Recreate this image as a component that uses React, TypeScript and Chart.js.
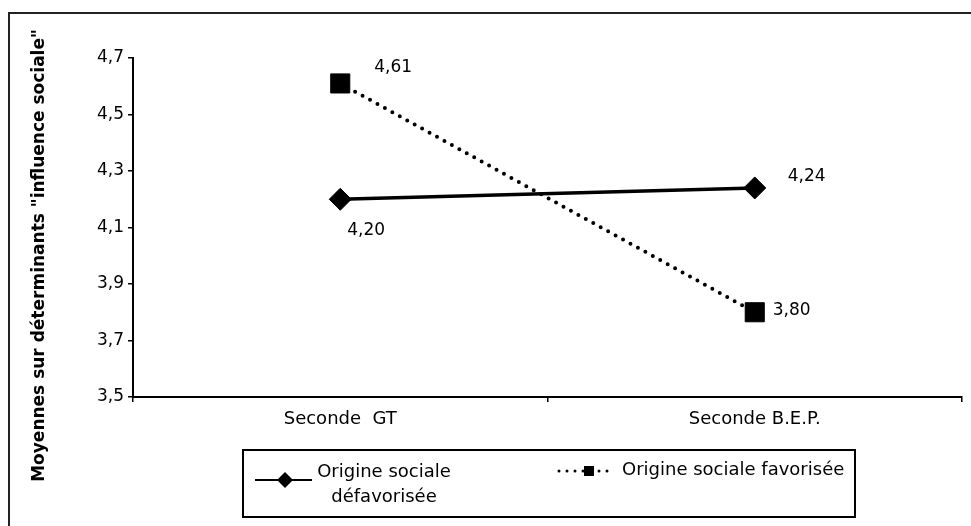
import React, { useEffect, useRef } from 'react';
import { Chart, registerables } from 'chart.js';

Chart.register(...registerables);

// ---- data ----
const categories = ['Seconde  GT', 'Seconde B.E.P.'];
const seriesNames = ['Origine sociale défavorisée', 'Origine sociale favorisée'];
const defavoriseeValues = [4.2, 4.24];
const favoriseeValues = [4.61, 3.8];
const yMin = 3.5;
const yMax = 4.7;
const yStep = 0.2;
const yAxisTitle = 'Moyennes sur déterminants "influence sociale"';
const legendLines = [['Origine sociale', 'défavorisée'], ['Origine sociale favorisée']];

// ---- style ----
const FONT = "'DejaVu Sans', 'Liberation Sans', sans-serif";
const INK = '#000000';
const fmt = (v: number, d: number) => v.toFixed(d).replace('.', ',');
const labelOffsets = [
  [[7, 31], [33, -11]],
  [[34, -16], [18, -2]],
];

const framePlugin = {
  id: 'frame',
  beforeDraw(chart: any) {
    const ctx = chart.ctx;
    ctx.save();
    ctx.fillStyle = '#ffffff';
    ctx.fillRect(0, 0, chart.width, chart.height);
    ctx.strokeStyle = '#222222';
    ctx.lineWidth = 2;
    ctx.beginPath();
    ctx.moveTo(9, chart.height);
    ctx.lineTo(9, 13);
    ctx.lineTo(chart.width, 13);
    ctx.stroke();
    ctx.restore();
  },
};

const yTitlePlugin = {
  id: 'yTitle',
  afterDraw(chart: any) {
    const ctx = chart.ctx;
    const a = chart.chartArea;
    ctx.save();
    ctx.translate(40, (a.top + a.bottom) / 2 + 28);
    ctx.rotate(-Math.PI / 2);
    ctx.fillStyle = INK;
    ctx.font = `bold 17px ${FONT}`;
    ctx.textAlign = 'center';
    ctx.textBaseline = 'middle';
    ctx.fillText(yAxisTitle, 0, 0);
    ctx.restore();
  },
};

const dataLabelPlugin = {
  id: 'dataLabels',
  afterDatasetsDraw(chart: any) {
    const ctx = chart.ctx;
    ctx.save();
    ctx.fillStyle = INK;
    ctx.font = `17px ${FONT}`;
    ctx.textAlign = 'left';
    ctx.textBaseline = 'middle';
    chart.data.datasets.forEach((ds: any, i: number) => {
      const meta = chart.getDatasetMeta(i);
      meta.data.forEach((el: any, j: number) => {
        const [dx, dy] = labelOffsets[i][j];
        ctx.fillText(fmt(ds.data[j], 2), el.x + dx, el.y + dy);
      });
    });
    ctx.restore();
  },
};

const legendPlugin = {
  id: 'boxLegend',
  afterDraw(chart: any) {
    const ctx = chart.ctx;
    ctx.save();
    ctx.strokeStyle = INK;
    ctx.fillStyle = INK;
    ctx.lineWidth = 2;
    ctx.strokeRect(243, 450, 612, 67);

    // item 1: solid line + diamond
    ctx.beginPath();
    ctx.moveTo(255, 480);
    ctx.lineTo(312, 480);
    ctx.stroke();
    ctx.beginPath();
    ctx.moveTo(285 - 8, 480);
    ctx.lineTo(285, 480 - 8);
    ctx.lineTo(285 + 8, 480);
    ctx.lineTo(285, 480 + 8);
    ctx.closePath();
    ctx.fill();

    ctx.font = `18px ${FONT}`;
    ctx.textBaseline = 'middle';
    ctx.textAlign = 'center';
    ctx.fillText(legendLines[0][0], 384, 472);
    ctx.fillText(legendLines[0][1], 384, 497);

    // item 2: dotted line + square
    ctx.save();
    ctx.lineWidth = 3;
    ctx.lineCap = 'round';
    ctx.setLineDash([0, 8]);
    ctx.beginPath();
    ctx.moveTo(559, 471);
    ctx.lineTo(612, 471);
    ctx.stroke();
    ctx.restore();
    ctx.fillRect(589 - 5, 471 - 5, 10, 10);

    ctx.textAlign = 'left';
    ctx.fillText(legendLines[1][0], 622, 470);
    ctx.restore();
  },
};

export default function App() {
  const ref = useRef<HTMLCanvasElement | null>(null);

  useEffect(() => {
    if (!ref.current) return;
    const chart = new Chart(ref.current, {
      type: 'line',
      data: {
        labels: categories,
        datasets: [
          {
            label: seriesNames[0],
            data: defavoriseeValues,
            borderColor: INK,
            backgroundColor: INK,
            borderWidth: 3.5,
            pointStyle: 'rectRot',
            pointRadius: 11,
            pointBorderWidth: 1,
            pointBackgroundColor: INK,
            pointBorderColor: INK,
            tension: 0,
          },
          {
            label: seriesNames[1],
            data: favoriseeValues,
            borderColor: INK,
            backgroundColor: INK,
            borderWidth: 4,
            borderDash: [0, 8.5],
            borderCapStyle: 'round',
            pointStyle: 'rect',
            pointRadius: 13.5,
            pointBorderWidth: 1,
            pointBackgroundColor: INK,
            pointBorderColor: INK,
            tension: 0,
          },
        ],
      },
      options: {
        responsive: false,
        animation: false,
        events: [],
        layout: { autoPadding: false, padding: { left: 0, top: 58, right: 9, bottom: 0 } },
        plugins: {
          legend: { display: false },
          tooltip: { enabled: false },
          title: { display: false },
        },
        scales: {
          x: {
            type: 'category',
            offset: true,
            afterFit(scale: any) {
              scale.height = 129;
              scale.paddingLeft = 0;
              scale.paddingRight = 0;
            },
            grid: {
              display: true,
              offset: true,
              drawOnChartArea: false,
              drawTicks: true,
              tickLength: 5,
              color: INK,
              lineWidth: 1.5,
            },
            border: { display: true, color: INK, width: 2 },
            ticks: {
              color: INK,
              padding: 7,
              font: { family: FONT, size: 18 },
              maxRotation: 0,
            },
          },
          y: {
            type: 'linear',
            min: yMin,
            max: yMax,
            afterFit(scale: any) {
              scale.width = 133;
            },
            grid: {
              display: true,
              drawOnChartArea: false,
              drawTicks: true,
              tickLength: 5,
              color: INK,
              lineWidth: 1.5,
            },
            border: { display: true, color: INK, width: 2 },
            ticks: {
              stepSize: yStep,
              color: INK,
              padding: 4,
              font: { family: FONT, size: 17 },
              callback: (v: any) => fmt(Number(v), 1),
            },
          },
        },
      },
      plugins: [framePlugin, dataLabelPlugin, yTitlePlugin, legendPlugin],
    } as any);
    return () => chart.destroy();
  }, []);

  return (
    <div style={{ position: 'absolute', left: 0, top: 0, width: 971, height: 526, background: '#fff' }}>
      <canvas ref={ref} width={971} height={526} style={{ display: 'block', width: 971, height: 526 }} />
    </div>
  );
}
